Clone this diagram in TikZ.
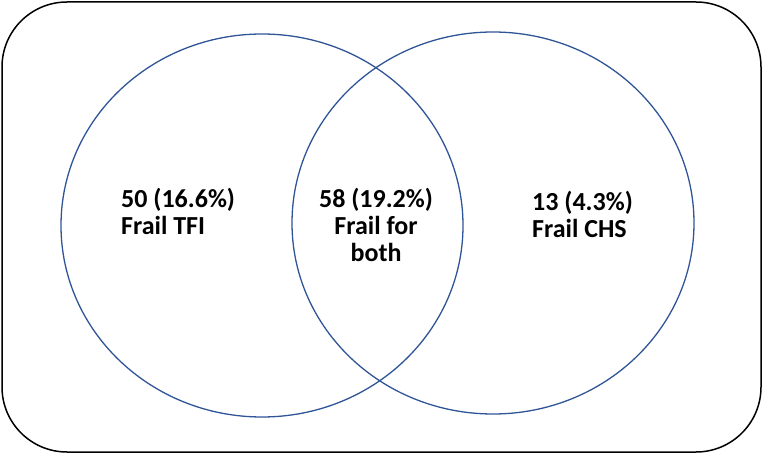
\documentclass[tikz,border=0pt]{standalone}
\usepackage{fontspec}
\setmainfont{Carlito}
\definecolor{vennblue}{RGB}{47,85,151}

\begin{document}
\begin{tikzpicture}[x=1pt, y=-1pt,
	 set/.style={draw=vennblue, line width=1.3pt},
	 count/.style={inner sep=0pt, font=\fontsize{26}{27}\selectfont\bfseries}]
	    \useasboundingbox (0,0) rectangle (763,454);
	    \draw[line width=1.5pt, rounded corners=65pt] (2,2) rectangle (761,452);
	    % the two sets
	    \draw[set] (262,225.5) ellipse [x radius=201, y radius=191.5];
	    \draw[set] (493,223) ellipse [x radius=201, y radius=191];
	    % counts
	    \node (tfi) at (121,235) [count, anchor=base west, align=left] {50 (16.6\%)\\Frail TFI};
	    \node (both) at (376,262) [count, anchor=base, align=center] {58 (19.2\%)\\Frail for\\both};
	    \node (chs) at (532,238) [count, anchor=base west, align=left] {13 (4.3\%)\\Frail CHS};
\end{tikzpicture}
\end{document}
